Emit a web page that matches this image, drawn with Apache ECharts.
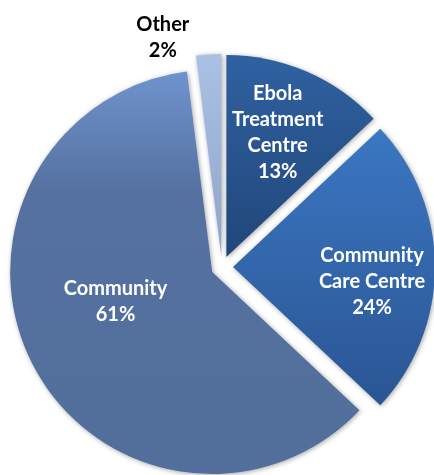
<!DOCTYPE html>
<html>
<head>
<meta charset="utf-8">
<script src="https://cdn.jsdelivr.net/npm/echarts@6/dist/echarts.min.js"></script>
<style>
html,body{margin:0;padding:0;background:#fff;}
#chart{width:434px;height:475px;}
</style>
</head>
<body>
<div id="chart"></div>
<script>
var categories = ['Ebola\nTreatment\nCentre', 'Community\nCare Centre', 'Community', 'Other'];
var values = [13, 24, 61, 2];

var grad = function (top, mid, bottom, midStop) {
  var stops = [{offset: 0, color: top}];
  if (mid) stops.push({offset: midStop, color: mid});
  stops.push({offset: 1, color: bottom});
  return new echarts.graphic.LinearGradient(0, 0, 0, 1, stops);
};
var fills = [
  grad('#2f61a1', null, '#21477a'),
  grad('#3b77c2', null, '#2a5593'),
  grad('#6e93cd', '#5571a0', '#526e9a', 0.3),
  grad('#abc1e4', null, '#8ea4c9')
];
var labelColors = ['#fff', '#fff', '#fff', '#000'];
var labelShift = [[10, -29], [35, 15], [-4, -18], [-52, -115]];

var data = categories.map(function (c, i) {
  return {
    name: c,
    value: values[i],
    selected: true,
    itemStyle: {color: fills[i]},
    select: {itemStyle: {color: fills[i]}},
    label: {color: labelColors[i]}
  };
});

var chart = echarts.init(document.getElementById('chart'), null, {renderer: 'canvas'});
chart.setOption({
  backgroundColor: '#ffffff',
  animation: false,
  series: [{
    type: 'pie',
    center: [222, 267],
    radius: 202,
    startAngle: 90,
    clockwise: true,
    selectedMode: 'multiple',
    selectedOffset: 11,
    avoidLabelOverlap: false,
    emphasis: {disabled: true},
    itemStyle: {
      shadowBlur: 5,
      shadowOffsetX: 1,
      shadowOffsetY: 1,
      shadowColor: 'rgba(0,0,0,0.35)'
    },
    label: {
      show: true,
      position: 'inside',
      formatter: function (p) { return p.name + '\n' + p.value + '%'; },
      fontFamily: 'Lato',
      fontWeight: 'bold',
      fontSize: 20,
      lineHeight: 26,
      align: 'center'
    },
    labelLayout: function (p) {
      var s = labelShift[p.dataIndex];
      return {dx: s[0], dy: s[1]};
    },
    labelLine: {show: false},
    data: data
  }]
});
</script>
</body>
</html>
